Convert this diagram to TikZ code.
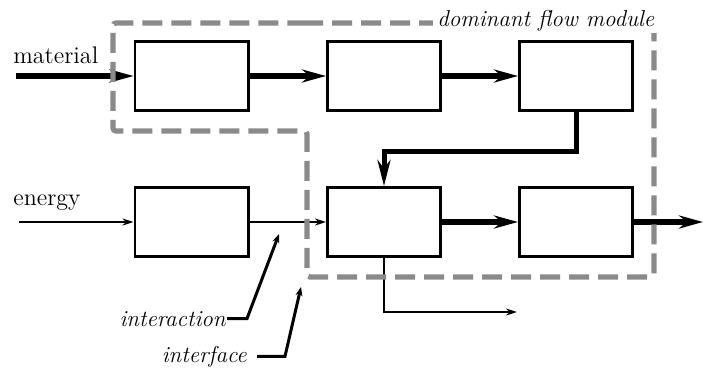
\documentclass[tikz,border=0pt]{standalone}
\usetikzlibrary{arrows.meta}
\definecolor{dgray}{HTML}{8A8A8A}
\begin{document}
\begin{tikzpicture}[x=0.5pt,y=-0.5pt,line join=miter,
  blk/.style={draw,line width=1.3pt,minimum width=56.7pt,minimum height=34.7pt,inner sep=0pt,fill=white},
  thickarr/.style={line width=3pt,-{Stealth[length=12pt,width=6.5pt]}},
  bendarr/.style={line width=2.5pt,-{Stealth[length=13pt,width=6.5pt]}},
  thinarr/.style={line width=1.25pt,-{Stealth[length=5.5pt,width=3.5pt]}},
  leader/.style={line width=1.5pt,-{Stealth[length=4.5pt,width=3.5pt]}},
  module/.style={draw=dgray,line width=2.6pt,dash pattern=on 10pt off 4.5pt,rounded corners=1.5pt},
  lbl/.style={font=\fontsize{12}{14}\selectfont,inner sep=0pt},
  ilbl/.style={font=\fontsize{11.5}{14}\selectfont\itshape,inner sep=0pt}]
\useasboundingbox (0,0) rectangle (703,377);
% boxes
\node[blk] (b1) at (191.5,76) {};
\node[blk] (b2) at (384,76) {};
\node[blk] (b3) at (576,76) {};
\node[blk] (b4) at (191.5,222) {};
\node[blk] (b5) at (384,222) {};
\node[blk] (b6) at (576,222) {};
% coordinates
\coordinate (min) at (16,76);
\coordinate (ein) at (19,222);
\coordinate (out) at (703,222);
\coordinate (k1) at (577,151);
\coordinate (o2) at (517,312);
\coordinate (ia) at (247,323);
\coordinate (it) at (279,234);
\coordinate (fa) at (285,358);
\coordinate (ft) at (301,287);
% material flow
\draw[thickarr] (min) -- (b1.west);
\draw[thickarr] (b1) -- (b2);
\draw[thickarr] (b2) -- (b3);
\draw[bendarr] (b3.south) -- (b3.south |- k1) -- (b5.north |- k1) -- (b5.north);
\draw[thickarr] (b5) -- (b6);
\draw[thickarr] (b6.east) -- (out);
% energy flow
\draw[thinarr] (ein) -- (b4.west);
\draw[thinarr] (b4) -- (b5);
\draw[thinarr] (b5.south) |- (o2);
% labels
\node[lbl,anchor=base west] (mat) at (13,63) {material};
\node[lbl,anchor=base west] (ene) at (13,205) {energy};
\node[ilbl,anchor=base east,inner xsep=0.5pt] (int) at (227,326) {interaction};
\node[ilbl,anchor=base east,inner xsep=5pt] (ifc) at (257,362) {interface};
\draw[leader] (int.east) -- (int.east -| ia) -- (it);
\draw[leader] (ifc.east) -- (ifc.east -| fa) -- (ft);
% dominant flow module boundary
\draw[module] (300,23) -- (654,23) -- (654,277) -- (307,277) -- (307,131) -- (113,131) -- (113,23) -- cycle;
\node[ilbl,anchor=base west,fill=white,inner xsep=2pt,inner ysep=1pt] (dfm) at (433,26) {dominant\ flow\ module};
\end{tikzpicture}
\end{document}
